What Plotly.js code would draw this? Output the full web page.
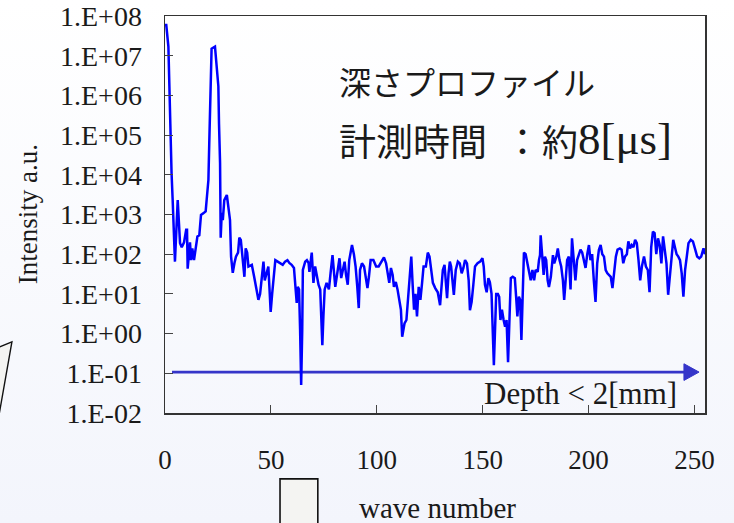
<!DOCTYPE html>
<html>
<head>
<meta charset="utf-8">
<script src="https://cdn.plot.ly/plotly-3.0.1.min.js"></script>
<style>
html,body{margin:0;padding:0;}
body{width:734px;height:523px;background:linear-gradient(180deg,#ffffff 0%,#f3f5fc 100%);overflow:hidden;}
#chart{width:734px;height:523px;}
</style>
</head>
<body>
<div id="chart"></div>
<script>
// wave number (x) and intensity (a.u.)
const waveNumber = [
0,0.6,1.6,2.4,3.1,3.6,4.1,4.7,6.0,6.6,
7.1,7.9,9.0,10.0,10.4,10.7,11.8,12.3,12.9,13.7,
14.5,15.3,16.2,17.0,18.4,19.2,19.8,20.5,20.9,21.3,
22.0,23.6,24.4,25.2,25.5,26.0,26.3,26.8,27.3,28.0,
29.2,29.9,30.7,31.2,32.0,32.8,33.5,34.5,35.1,35.8,
36.4,37.0,37.5,38.1,38.8,39.4,41.0,42.1,43.1,44.1,
44.9,45.7,46.5,47.1,48.0,48.8,49.3,49.9,50.6,51.5,
52.1,53.2,54.3,55.6,56.7,57.8,58.7,59.8,60.9,61.6,
62.2,62.7,63.3,63.8,64.3,64.8,65.1,66.2,67.0,67.8,
68.2,69.3,70.1,70.9,71.7,72.5,73.3,73.7,74.3,74.8,
75.4,76.3,77.4,78.2,79.1,80.4,81.6,82.4,83.2,84.0,
84.8,85.5,86.3,87.0,87.7,88.3,89.2,90.0,90.8,91.5,
92.1,93.0,94.0,94.8,95.6,96.3,97.1,98.4,99.7,100.9,
102.2,103.4,104.4,105.2,105.9,106.7,107.5,108.1,109.0,109.8,
110.7,111.4,112.0,113.1,114.0,114.8,115.6,116.3,117.0,117.6,
118.3,119.0,119.8,120.6,121.4,122.1,123.2,124.1,124.9,125.7,
126.5,127.6,128.8,129.9,130.4,131.2,132.0,132.6,133.2,133.9,
134.5,135.1,135.8,136.4,137.3,138.3,139.2,140.1,140.9,141.7,
142.6,143.4,144.0,144.8,145.6,146.4,147.6,148.8,149.9,150.5,
151.1,151.9,152.7,153.4,154.2,154.6,155.3,155.9,156.4,157.2,
157.8,158.4,159.1,159.9,160.6,161.3,162.0,162.6,163.3,164.2,
165.2,165.8,166.4,167.1,167.7,168.3,169.0,169.5,170.3,171.1,
171.9,172.7,173.5,174.3,175.0,176.0,176.6,177.1,177.4,178.2,
178.8,179.4,180.0,180.7,181.3,182.2,183.2,183.8,184.8,185.5,
186.3,187.1,187.9,188.5,189.2,189.9,190.7,191.5,192.2,193.0,
193.8,194.6,195.4,196.2,197.0,197.8,198.6,199.4,200.2,200.9,
201.7,202.5,203.3,204.1,204.9,205.7,206.5,207.3,208.1,208.9,
209.7,210.5,211.3,212.1,212.9,213.7,214.8,215.6,216.4,217.2,
218.1,218.8,219.6,220.4,221.2,222.0,222.8,223.6,224.4,225.2,
226.2,227.1,228.0,228.8,229.6,230.4,231.2,232.0,232.8,233.6,
234.4,235.2,236.0,236.8,237.6,238.4,239.2,240.0,240.8,241.6,
242.4,243.2,244.0,244.8,245.6,246.4,247.2,248.3,249.3,250.4,
251.3,252.3,253.2,254.3,255.0
];
const intensity = [
5.9e7,5.9e7,1.7e7,1.1e5,1.1e4,2.5e3,560,65,2300,460,
190,150,200,410,410,43,200,71,140,71,
130,280,300,980,1100,1200,2800,7400,6.2e4,7.6e5,
1.5e7,1.7e7,5.2e6,1.7e6,2.0e5,2.0e4,260,1100,720,2300,
3100,1600,720,87,34,60,87,110,260,230,
110,60,27,140,110,49,54,27,13,7.1,
10,22,65,22,34,49,15,3.5,10,34,
71,65,60,54,65,71,60,54,45,15,
5.9,15,13,1.2,0.051,1.2,40,65,71,60,
36,110,19,49,27,17,13,2.7,0.51,2.7,
13,19,13,34,95,15,40,79,25,45,
65,30,17,71,130,170,100,49,15,4.4,
40,59,49,22,14,27,71,71,49,49,
65,83,59,33,19,45,30,15,20,13,
7.1,4.0,0.83,1.8,2.2,10,40,87,15,4.0,
10,2.7,15,7.1,19,49,49,110,87,40,
19,14,11,5.2,11,40,54,22,7.8,33,
65,49,22,9.5,40,65,59,33,45,71,
59,22,3.9,6.3,17,49,59,65,79,49,
17,11,25,20,10,1.5,0.16,1.5,10,10,
8.5,2.2,4.0,2.2,1.5,2.2,0.19,1.8,25,27,
25,8.5,2.7,8.5,7.1,0.69,10,110,100,59,
33,22,40,22,40,36,71,95,300,71,
30,87,71,22,15,27,95,59,87,140,
71,49,22,7.1,27,71,87,13,250,71,
22,71,100,130,110,71,45,100,170,71,
100,22,6.3,59,130,170,100,87,40,33,
30,27,14,40,87,130,140,130,59,87,
100,210,140,170,150,230,190,71,22,49,
87,49,40,11,150,370,340,100,250,170,
59,280,130,59,9.5,33,71,230,150,100,
87,71,33,8.5,40,100,190,230,210,130,
87,79,87,140,100
];
const yTickVals = [1e-2,1e-1,1e0,1e1,1e2,1e3,1e4,1e5,1e6,1e7,1e8];
const yTickText = ['1.E-02','1.E-01','1.E+00','1.E+01','1.E+02','1.E+03','1.E+04','1.E+05','1.E+06','1.E+07','1.E+08'];
const xTickVals = [0,50,100,150,200,250];
const xTickText = ['0','50','100','150','200','250'];

const serif = 'Liberation Serif, Times New Roman, serif';
const jp = 'Noto Sans CJK JP, sans-serif';
const arrowColor = '#3535c9';
const ink = '#1a1a1a';

const trace = {
  x: waveNumber, y: intensity, type: 'scatter', mode: 'lines',
  line: {color: '#0000ff', width: 2.5},
  hoverinfo: 'skip', showlegend: false
};

function note(text, x, y, opts) {
  return Object.assign({text: text, xref: 'paper', yref: 'paper', x: x, y: y,
    xanchor: 'left', yanchor: 'middle', showarrow: false,
    font: {family: jp, size: 32, color: ink}}, opts || {});
}

const layout = {
  width: 734, height: 523,
  margin: {l: 165, r: 29, t: 16, b: 110, pad: 0},
  paper_bgcolor: 'rgba(0,0,0,0)', plot_bgcolor: 'rgba(0,0,0,0)',
  font: {family: serif, color: ink},
  xaxis: {
    range: [0, 255], tickmode: 'array', tickvals: xTickVals, ticktext: xTickText,
    ticks: 'inside', ticklen: 8, tickwidth: 1.2, tickcolor: '#444',
    showline: true, linecolor: '#333', linewidth: 1.5, mirror: true,
    showgrid: false, zeroline: false,
    tickfont: {family: serif, size: 27, color: ink},
    ticklabelstandoff: 22, automargin: false
  },
  yaxis: {
    type: 'log', range: [-2, 8], tickmode: 'array', tickvals: yTickVals, ticktext: yTickText,
    ticks: 'inside', ticklen: 8, tickwidth: 1.2, tickcolor: '#444',
    showline: true, linecolor: '#333', linewidth: 1.5, mirror: true,
    showgrid: false, zeroline: false,
    tickfont: {family: serif, size: 28, color: ink},
    ticklabelstandoff: 16, automargin: false
  },
  shapes: [
    {type: 'line', xref: 'paper', yref: 'paper', x0: 0.013, x1: 0.965, y0: 0.103, y1: 0.103,
     line: {color: arrowColor, width: 2.6}, layer: 'below'},
    {type: 'path', xref: 'paper', yref: 'paper', path: 'M 0.961 0.124 L 0.989 0.103 L 0.961 0.082 Z',
     fillcolor: arrowColor, line: {color: arrowColor, width: 1}, layer: 'below'},
    {type: 'rect', xref: 'paper', yref: 'paper', x0: 0.213, x1: 0.283, y0: -0.166, y1: -0.33,
     fillcolor: '#f4f4f2', line: {color: '#111', width: 1.6}},
    {type: 'path', xref: 'paper', yref: 'paper',
     path: 'M -0.315 0.162 L -0.2835 0.179 L -0.308 -0.01 L -0.315 -0.01 Z',
     fillcolor: '#f4f4f2', line: {color: '#111', width: 1.4}}
  ],
  annotations: [
    note('Intensity a.u.', -0.254, 0.5, {xanchor: 'center', textangle: -90,
      font: {family: serif, size: 27, color: ink}}),
    note('wave number', 0.504, -0.239, {xanchor: 'center',
      font: {family: serif, size: 29, color: ink}}),
    note('Depth < 2[mm]', 0.770, 0.05, {xanchor: 'center',
      font: {family: serif, size: 31, color: ink}}),
    note('深さプロファイル', 0.318, 0.836),
    note('計測時間', 0.318, 0.688, {font: {family: jp, size: 37, color: ink}}),
    note('：', 0.662, 0.688, {xanchor: 'center', font: {family: jp, size: 37, color: ink}}),
    note('約', 0.694, 0.688, {font: {family: jp, size: 36, color: ink}}),
    note('8[μs]', 0.762, 0.690, {font: {family: serif, size: 45, color: ink}})
  ]
};

Plotly.newPlot('chart', [trace], layout, {staticPlot: true, displayModeBar: false});
</script>
</body>
</html>
